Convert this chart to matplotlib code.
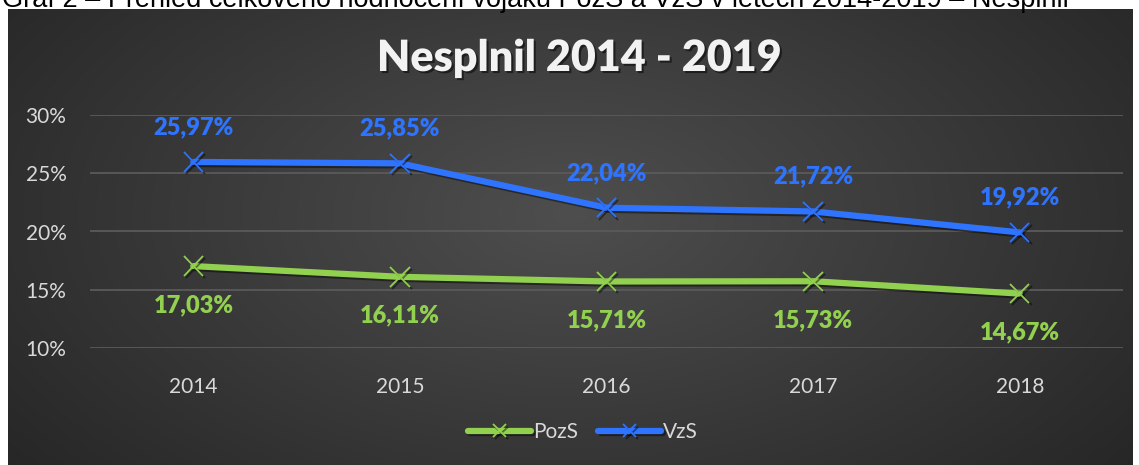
import matplotlib.pyplot as plt
import matplotlib.patheffects as pe
import numpy as np

# data
years = ['2014', '2015', '2016', '2017', '2018']
pozs = [17.03, 16.11, 15.71, 15.73, 14.67]
vzs = [25.97, 25.85, 22.04, 21.72, 19.92]
yticks = [10, 15, 20, 25, 30]

FONT = ['Lato', 'DejaVu Sans']
GREEN = '#92d050'
BLUE = '#2f74ff'

W, H = 1139, 465
fig = plt.figure(figsize=(W / 100, H / 100), dpi=100)
fig.patch.set_facecolor('white')

# dark box with radial gradient
bg = fig.add_axes([8 / W, 0, (1132 - 8) / W, (H - 9) / H])
ny, nx = 200, 400
yy, xx = np.mgrid[0:1:ny * 1j, 0:1:nx * 1j]
r = np.sqrt(((xx - 0.5) / 0.65) ** 2 + ((yy - 0.55) / 0.9) ** 2)
r = np.clip(r, 0, 1)
c0 = np.array([0x4e, 0x4e, 0x4e]) / 255
c1 = np.array([0x26, 0x26, 0x26]) / 255
img = c0[None, None, :] * (1 - r[..., None]) + c1[None, None, :] * r[..., None]
bg.imshow(img, aspect='auto', extent=[0, 1, 0, 1], origin='lower')
bg.set_axis_off()

# caption above the chart (cut off at top)
fig.text(2 / W, 1 - 7 / H, 'Graf 2 – Přehled celkového hodnocení vojáků PozS a VzS v letech 2014-2019 – Nesplnil',
         fontsize=19.5, family=['Liberation Sans', 'DejaVu Sans'], color='black', va='baseline', ha='left')

ax = fig.add_axes([90 / W, (H - 348) / H, (1123 - 90) / W, (348 - 115) / H])
ax.set_facecolor('none')
x = np.arange(len(years))

shadow = [pe.SimpleLineShadow(offset=(1.5, -1.5), shadow_color='black', alpha=0.45), pe.Normal()]
ax.plot(x, pozs, color=GREEN, lw=4.5, marker='x', ms=14, mew=1.3, label='PozS',
        solid_capstyle='round', path_effects=shadow, zorder=3)
ax.plot(x, vzs, color=BLUE, lw=4.5, marker='x', ms=14, mew=1.3, label='VzS',
        solid_capstyle='round', path_effects=shadow, zorder=3)

for i in range(len(years)):
    ax.annotate(f'{vzs[i]:.2f}%'.replace('.', ','), (x[i], vzs[i]), xytext=(0, 25), textcoords='offset points',
                ha='center', va='center', color=BLUE, fontsize=17, fontweight='heavy', family=FONT)
    ax.annotate(f'{pozs[i]:.2f}%'.replace('.', ','), (x[i], pozs[i]), xytext=(0, -28), textcoords='offset points',
                ha='center', va='center', color=GREEN, fontsize=17, fontweight='heavy', family=FONT)

ax.set_xlim(-0.5, len(years) - 0.5)
ax.set_ylim(10, 30)
ax.set_yticks(yticks)
ax.set_yticklabels([f'{t}%' for t in yticks])
ax.set_xticks(x)
ax.set_xticklabels(years)
ax.grid(axis='y', color='#5a5a5a', lw=1.3)
ax.set_axisbelow(True)
ax.tick_params(length=0, colors='#d9d9d9', labelsize=15)
ax.tick_params(axis='y', pad=17)
ax.tick_params(axis='x', pad=21)
for lab in ax.get_xticklabels() + ax.get_yticklabels():
    lab.set_family(FONT)
for s in ax.spines.values():
    s.set_visible(False)

fig.text(579 / W, 1 - 58 / H, 'Nesplnil 2014 - 2019', ha='center', va='center', color='#f2f2f2',
         fontsize=31, fontweight='heavy', family=FONT,
         path_effects=[pe.withSimplePatchShadow(offset=(1.5, -1.5), shadow_rgbFace='black', alpha=0.5)])

leg = fig.legend(loc='center', bbox_to_anchor=(583 / W, 1 - 432 / H), ncol=2, frameon=False,
                 handlelength=3.0, handletextpad=0.1, columnspacing=1.0,
                 prop={'family': FONT, 'size': 15})
for t in leg.get_texts():
    t.set_color('#d9d9d9')
for h in leg.legend_handles:
    h.set_markersize(9)

fig.savefig('out.png', dpi=100)
